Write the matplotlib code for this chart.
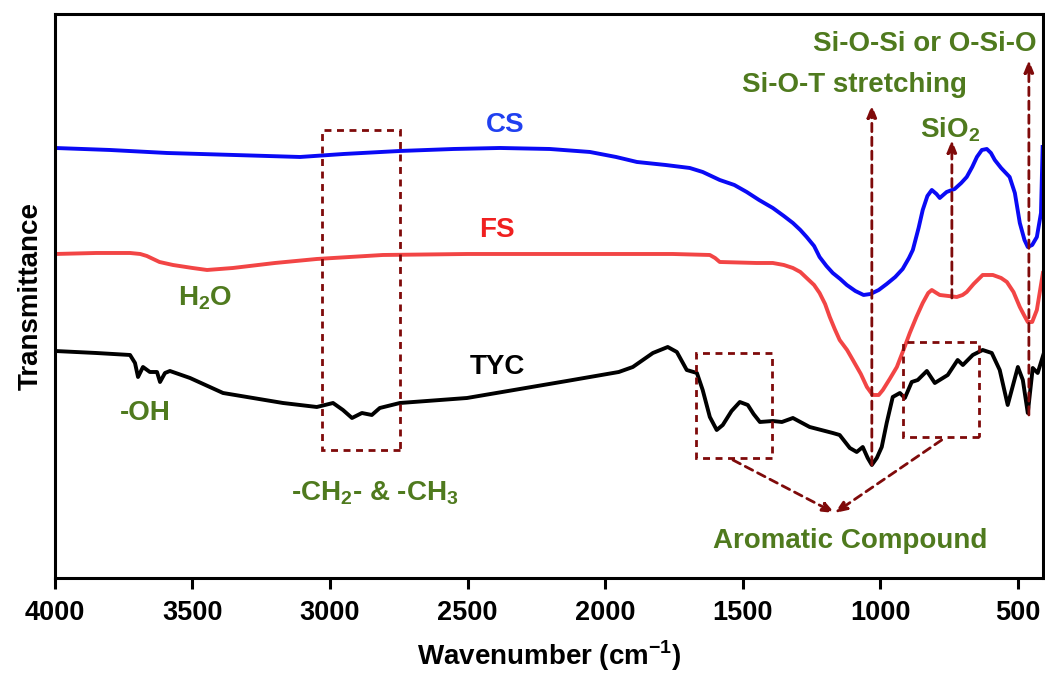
import matplotlib
matplotlib.use("Agg")
import matplotlib.pyplot as plt
from matplotlib.patches import Rectangle
from matplotlib import font_manager

names = {f.name for f in font_manager.fontManager.ttflist}
NARROW = 'Liberation Sans Narrow' if 'Liberation Sans Narrow' in names else 'Liberation Sans'
plt.rcParams['font.family'] = ['Liberation Sans', 'DejaVu Sans']
plt.rcParams['font.weight'] = 'bold'
plt.rcParams['mathtext.fontset'] = 'custom'
plt.rcParams['mathtext.rm'] = 'Liberation Sans:bold'
plt.rcParams['mathtext.bf'] = 'Liberation Sans:bold'

# ---- data (wavenumber cm^-1, transmittance a.u.) ----
cs_wn = [4000, 3800, 3593, 3350, 3109, 2950, 2746, 2550, 2382, 2201, 2055, 1960, 1884, 1780,
         1692, 1645, 1583, 1530, 1485, 1440, 1390, 1350, 1317, 1290, 1267, 1240, 1220, 1195,
         1172, 1145, 1121, 1090, 1060, 1035, 1005, 976, 945, 918, 895, 881, 860, 845, 828,
         812, 795, 783, 758, 729, 705, 685, 665, 648, 630, 612, 597, 583, 560, 529, 510, 492,
         475, 463, 447, 430, 415, 409]
cs_t = [430, 428, 425, 423, 421, 424, 427, 429, 430, 429, 426, 421, 416, 413,
        410, 406, 398, 393, 386, 378, 370, 362, 355, 348, 341, 332, 321, 312,
        305, 299, 293, 287, 283, 284, 288, 294, 301, 309, 320, 328, 350, 368, 382,
        388, 384, 380, 386, 389, 395, 401, 411, 421, 428, 429, 425, 418, 410, 401, 385, 355,
        338, 331, 333, 341, 365, 431]

fs_wn = [4000, 3850, 3727, 3690, 3666, 3620, 3571, 3500, 3447, 3353, 3200, 3048, 2808, 2500,
         2201, 1754, 1619, 1600, 1583, 1450, 1390, 1350, 1317, 1290, 1267, 1240, 1220, 1200,
         1183, 1165, 1147, 1120, 1099, 1070, 1048, 1027, 1005, 990, 965, 939, 915, 892, 868,
         845, 825, 812, 795, 783, 721, 700, 685, 660, 627, 590, 560, 539, 515, 492, 475, 463,
         447, 430, 408]
fs_t = [324, 325, 325, 324, 322, 316, 313, 310, 308, 310, 315, 319, 323, 324,
        324, 324, 323, 320, 316, 315, 315, 313, 310, 306, 300, 293, 285, 274,
        261, 249, 238, 228, 218, 204, 191, 183, 183, 188, 199, 211, 228, 245, 261,
        275, 285, 288, 285, 283, 281, 283, 286, 294, 303, 303, 300, 296, 286, 271, 262, 256,
        256, 268, 305]

tyc_wn = [4000, 3850, 3727, 3709, 3698, 3680, 3655, 3629, 3618, 3600, 3582, 3509, 3389, 3171,
          3048, 2989, 2953, 2920, 2884, 2848, 2819, 2746, 2502, 2139, 1950, 1899, 1826, 1772,
          1739, 1703, 1666, 1645, 1619, 1594, 1572, 1540, 1510, 1481, 1460, 1437, 1390, 1357,
          1317, 1256, 1172, 1147, 1110, 1085, 1063, 1045, 1030, 1012, 994, 976, 954, 928, 910,
          885, 863, 830, 801, 754, 718, 699, 663, 627, 594, 565, 536, 499, 481, 463, 445, 427,
          401]
tyc_t = [227, 225, 223, 215, 201, 211, 206, 206, 196, 205, 207, 200, 185, 175,
         171, 175, 168, 160, 165, 163, 170, 175, 180, 197, 206, 211, 225, 231,
         226, 208, 205, 188, 161, 148, 153, 167, 176, 173, 164, 156, 157, 156,
         160, 151, 145, 143, 130, 126, 131, 120, 113, 120, 131, 155, 181, 185, 180,
         196, 198, 207, 195, 203, 218, 213, 223, 228, 225, 208, 173, 211, 198, 165, 210, 205,
         228]

x_ticks = [4000, 3500, 3000, 2500, 2000, 1500, 1000, 500]

GREEN = '#4F7A1E'
DRED = '#7F0A0A'

fig = plt.figure(figsize=(10.45, 6.75), dpi=100)
ax = fig.add_axes([0.0526, 0.1437, 0.9454, 0.8356])

ax.plot(cs_wn, cs_t, color='#0A0AF5', lw=2.8, solid_joinstyle='round')
ax.plot(fs_wn, fs_t, color='#F24545', lw=2.8, solid_joinstyle='round')
ax.plot(tyc_wn, tyc_t, color='black', lw=2.8, solid_joinstyle='round')

ax.set_xlim(4000, 408)
ax.set_ylim(0, 564)
ax.set_yticks([])
ax.set_xticks(x_ticks)
ax.set_xticklabels([str(v) for v in x_ticks], fontfamily=NARROW, fontsize=19.5, fontweight='bold')
ax.tick_params(axis='x', direction='out', length=8, width=2.2, pad=8)
for s in ax.spines.values():
    s.set_linewidth(2.2)

ax.set_xlabel('Wavenumber (cm$^{-1}$)', fontfamily=NARROW, fontsize=20,
              fontweight='bold', labelpad=9)
ax.set_ylabel('Transmittance', fontsize=20, fontweight='bold', labelpad=8)

# series labels
ax.text(2364, 453, 'CS', color='#2040F0', fontsize=20, fontweight='bold', ha='center', va='center')
ax.text(2393, 348, 'FS', color='#F02020', fontsize=20, fontweight='bold', ha='center', va='center')
ax.text(2390, 211, 'TYC', color='black', fontsize=20, fontweight='bold', ha='center', va='center')

# annotations
kw = dict(color=GREEN, fontsize=20, fontweight='bold', ha='center', va='center')
ax.text(3455, 280, 'H$_2$O', **kw)
ax.text(3673, 165, '-OH', **kw)
ax.text(2837, 85, '-CH$_2$- & -CH$_3$', **kw)
ax.text(1110, 37, 'Aromatic Compound', **kw)
ax.text(1092, 493, 'Si-O-T stretching', **kw)
ax.text(747, 448, 'SiO$_2$', **kw)
ax.text(838, 534, 'Si-O-Si or O-Si-O', **kw)

# dashed boxes
for (x0, x1, y0, y1) in [(3029, 2746, 128, 448), (1670, 1394, 120, 225), (918, 641, 141, 236)]:
    ax.add_patch(Rectangle((x1, y0), x0 - x1, y1 - y0, fill=False, ec=DRED, lw=2,
                           ls=(0, (2.5, 2)), zorder=4))

# arrows
aprops = dict(arrowstyle='-|>,head_length=0.7,head_width=0.28', color=DRED, lw=2,
              ls=(0, (3, 2)), shrinkA=0, shrinkB=0)
ax.annotate('', xy=(1165, 65), xytext=(1535, 118), arrowprops=aprops)
ax.annotate('', xy=(1165, 65), xytext=(776, 138), arrowprops=aprops)
ax.annotate('', xy=(1030, 473), xytext=(1030, 113), arrowprops=aprops)
ax.annotate('', xy=(739, 438), xytext=(739, 280), arrowprops=aprops)
ax.annotate('', xy=(459, 518), xytext=(459, 163), arrowprops=aprops)

fig.savefig('out.png', dpi=100)
